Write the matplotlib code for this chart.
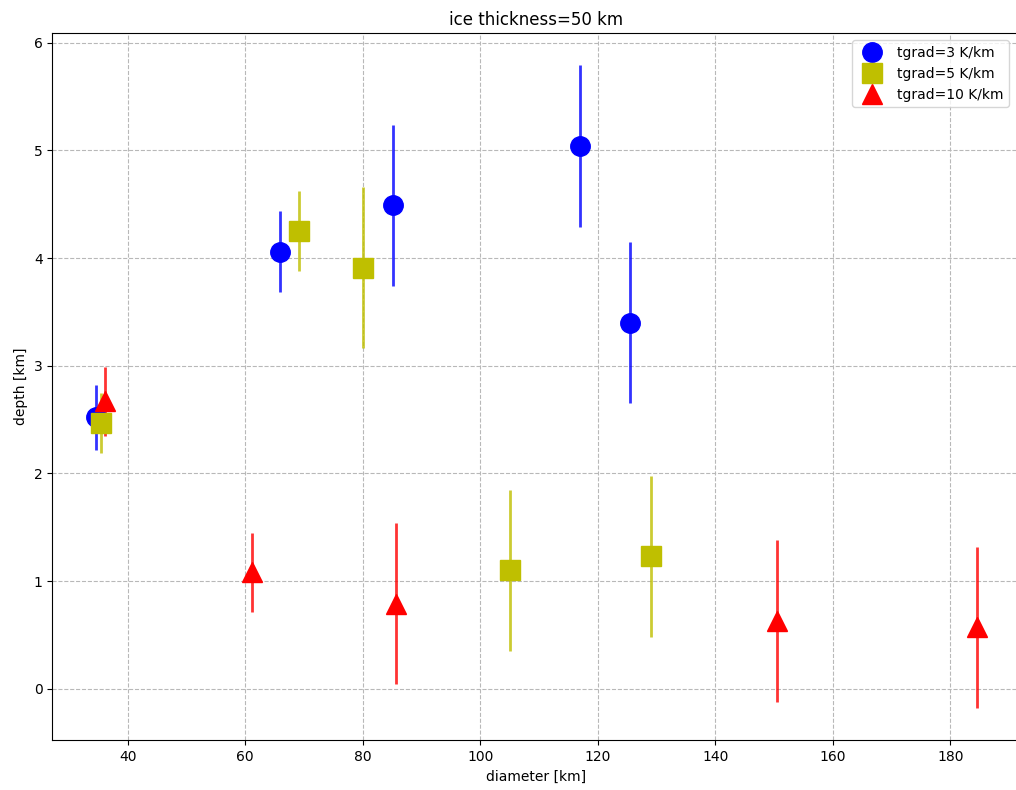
import matplotlib
matplotlib.use("Agg")
import matplotlib.pyplot as plt

# tgrad = 3 K/km
d3 = [34.7, 66.0, 85.2, 117.0, 125.5]
z3 = [2.52, 4.06, 4.49, 5.04, 3.40]
e3 = [0.30, 0.38, 0.75, 0.75, 0.75]

# tgrad = 5 K/km
d5 = [35.5, 69.2, 80.0, 105.0, 129.0]
z5 = [2.47, 4.25, 3.91, 1.10, 1.23]
e5 = [0.28, 0.37, 0.75, 0.75, 0.75]

# tgrad = 10 K/km
d10 = [36.2, 61.2, 85.6, 150.5, 184.5]
z10 = [2.67, 1.08, 0.79, 0.63, 0.57]
e10 = [0.32, 0.37, 0.75, 0.75, 0.75]

labels = ["tgrad=3 K/km", "tgrad=5 K/km", "tgrad=10 K/km"]

fig = plt.figure(figsize=(10.16, 7.9), dpi=100)
ax = fig.add_axes([0.0516, 0.063, 0.953, 0.895])

series = [(d3, z3, e3, 'b', 'o'), (d5, z5, e5, 'y', 's'), (d10, z10, e10, 'r', '^')]
for (x, y, e, c, m), lab in zip(series, labels):
    eb = ax.errorbar(x, y, yerr=e, fmt=m, color=c, markersize=14, elinewidth=2,
                     capsize=0, label=lab, zorder=3)
    for lc in eb[2]:
        lc.set_alpha(0.8)

ax.grid(True, linestyle='--', color='#b8b8b8', linewidth=0.8)
ax.set_axisbelow(True)
ax.set_xlabel("diameter [km]")
ax.set_ylabel("depth [km]")
ax.set_title("ice thickness=50 km")
ax.legend(loc='upper right', numpoints=1, bbox_to_anchor=(0.995, 1.0))

fig.savefig("out.png", dpi=100)
